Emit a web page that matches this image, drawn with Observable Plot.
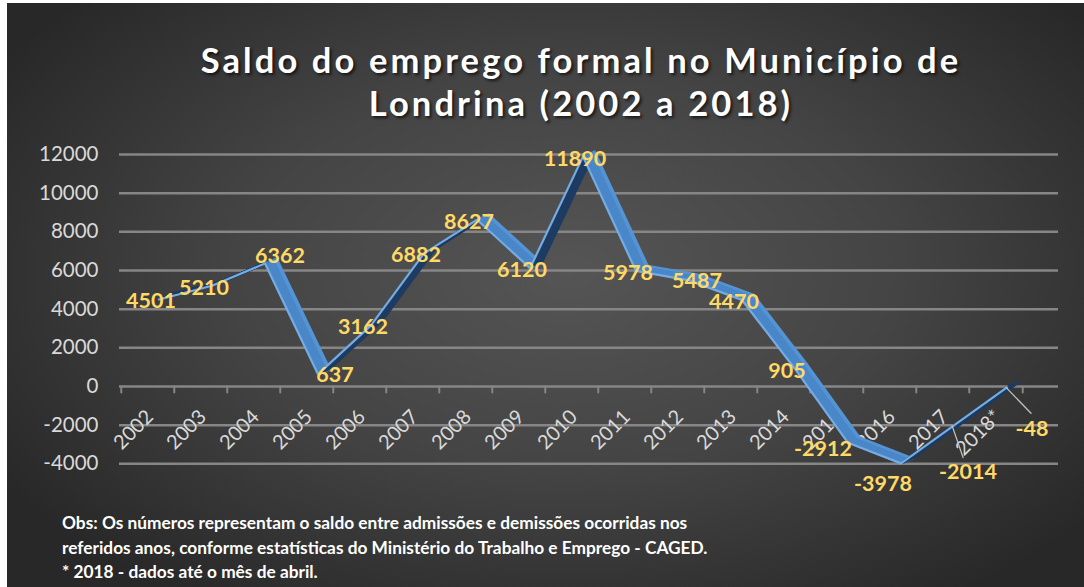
<!DOCTYPE html>
<html><head><meta charset="utf-8">
<script src="https://cdn.jsdelivr.net/npm/d3@7"></script>
<script src="https://cdn.jsdelivr.net/npm/@observablehq/plot@0.6"></script>
<style>
html,body{margin:0;padding:0;background:#fff;width:1084px;height:587px;overflow:hidden;font-family:Lato,"Liberation Sans",sans-serif;}
#panel{position:absolute;left:7px;top:3px;width:1077px;height:584px;
  background:radial-gradient(ellipse 62% 68% at 52% 46%, #555555 0%, #444444 50%, #282828 100%);}
#title{position:absolute;left:80px;width:1002px;top:38px;text-align:center;color:#fff;font-weight:700;
  font-size:34.5px;line-height:43px;letter-spacing:3.1px;text-shadow:2px 2px 3px rgba(0,0,0,0.65);}
#chart{position:absolute;left:0;top:0;}
#caption{position:absolute;left:62px;top:511px;color:#fff;font-weight:700;font-size:17.3px;line-height:24.5px;}
</style></head>
<body>
<div id="panel"></div>
<div id="title">Saldo do emprego formal no Município de<br>Londrina (2002 a 2018)</div>
<div id="chart"></div>
<div id="caption">Obs: Os números representam o saldo entre admissões e demissões ocorridas nos<br>referidos anos, conforme estatísticas do Ministério do Trabalho e Emprego - CAGED.<br>* 2018 - dados até o mês de abril.</div>
<script>
const years = ["2002","2003","2004","2005","2006","2007","2008","2009","2010","2011","2012","2013","2014","2015","2016","2017","2018*"];
const saldo = [4501,5210,6362,637,3162,6882,8627,6120,11890,5978,5487,4470,905,-2912,-3978,-2014,-48];
const yTicks = [-4000,-2000,0,2000,4000,6000,8000,10000,12000];

const rows = years.map((year, i) => ({year, value: saldo[i]}));
const segs = d3.pairs(rows).map(([a, b]) => ({a: a.year, b: b.year, va: a.value, vb: b.value, up: b.value > a.value}));

const FRONT_DX = 11;
const labelNudge = {"2004":[26,-7],"2005":[28,1],"2012":[19,1],"2015":[-14,6],"2016":[-7,21],"2017":[25,47],"2018*":[36,42]};

const lineShape = {draw(context, l) { context.moveTo(0, 0); context.lineTo(0, -l); }};

const ribbon = [];
for (let i = 10; i >= 1; i--) {
  const common = {x1: "a", y1: "va", x2: "b", y2: "vb", strokeWidth: 2.6, strokeLinecap: "round", dx: FRONT_DX + i * 1.15, dy: -i * 0.5};
  ribbon.push(Plot.link(segs.filter(d => d.up), {...common, stroke: "#1e3c62"}));
  ribbon.push(Plot.link(segs.filter(d => !d.up), {...common, stroke: i > 7 ? "#5594d4" : "#4a87c8"}));
}

const labelMarks = rows.map(r => {
  const [dx, dy] = labelNudge[r.year] || [3, 2];
  return Plot.text([r], {x: "year", y: "value", text: d => String(d.value), dx, dy,
    fill: "#ffd966", fontSize: 21.5, fontWeight: 700, fontFamily: "Lato"});
});

const plot = Plot.plot({
  width: 1084, height: 500,
  marginLeft: 119, marginRight: 26, marginTop: 150, marginBottom: 30,
  x: {type: "band", domain: years, range: [117, 1026], padding: 0, axis: null},
  y: {domain: [-4000, 12000], range: [463.3, 154], axis: null},
  style: {background: "transparent", fontFamily: "Lato"},
  marks: [
    Plot.ruleY(yTicks, {stroke: "#868686", strokeWidth: 2.5}),
    Plot.text(yTicks, {y: d => d, frameAnchor: "left", dx: -21, textAnchor: "end", text: d => String(d),
      fill: "#d9d9d9", fontSize: 20.5}),
    Plot.vector(years, {x: d => d, y: () => 0, dx: -(909 / 17) / 2, length: 6, rotate: 180, anchor: "start",
      shape: lineShape, stroke: "#868686", strokeWidth: 2}),
    Plot.vector(years.slice(-1), {x: d => d, y: () => 0, dx: (909 / 17) / 2, length: 6, rotate: 180, anchor: "start",
      shape: lineShape, stroke: "#868686", strokeWidth: 2}),
    Plot.text(years, {x: d => d, y: () => 0, text: d => d, rotate: -45, textAnchor: "end", dx: 2, dy: 27,
      fill: "#d9d9d9", fontSize: 20}),
    ...ribbon,
    Plot.line(rows, {x: "year", y: "value", dx: FRONT_DX, stroke: "#74ace3", strokeWidth: 2.2, strokeLinejoin: "round"}),
    Plot.vector(rows.filter(r => r.year === "2017"), {x: "year", y: "value", dx: FRONT_DX - 2, length: 34, rotate: 161,
      anchor: "start", shape: lineShape, stroke: "#bfbfbf", strokeWidth: 1.3}),
    Plot.vector(rows.filter(r => r.year === "2018*"), {x: "year", y: "value", dx: FRONT_DX - 1, length: 36, rotate: 136,
      anchor: "start", shape: lineShape, stroke: "#bfbfbf", strokeWidth: 1.3}),
    ...labelMarks
  ]
});
document.getElementById("chart").appendChild(plot);
</script>
</body></html>
